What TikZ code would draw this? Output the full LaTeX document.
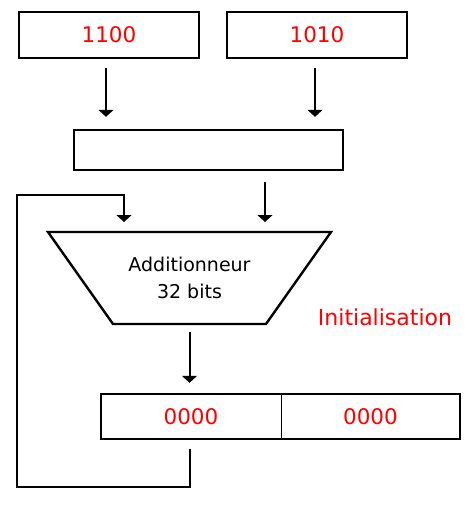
\documentclass[tikz,border=0pt]{standalone}
\usepackage{fontspec}
\setmainfont{DejaVu Sans}
\usetikzlibrary{arrows.meta}
\tikzset{
  boite/.style={draw, line width=2.4pt, minimum width=180pt, minimum height=46pt,
                inner sep=0pt, text=red, font=\fontsize{21.5}{25}\selectfont},
  case/.style={minimum height=45pt, inner sep=0pt, text=red,
               font=\fontsize{21.5}{25}\selectfont},
  fleche/.style={line width=2pt, -{Triangle[width=15pt,length=7pt]}},
}
\begin{document}
\begin{tikzpicture}[x=1pt, y=-1pt]
  \useasboundingbox (0,0) rectangle (471,515);
  \foreach \nom/\x/\val in {a/109/1100, b/317/1010} % les deux entrees
    {
     \node[boite] (\nom) at (\x,35) {\val};
    }
  \node[draw, line width=2.4pt, minimum width=269pt, minimum height=40pt,
        inner sep=0pt] (mid) at (208.5,150) {};
  % additionneur : trapeze grande base en haut
  \node[minimum width=283pt, minimum height=92pt, inner sep=0pt, outer sep=0pt,
        align=center, font=\fontsize{19}{27}\selectfont] (adder) at (189.5,278)
        {Additionneur\\32 bits};
  \draw[line width=2.4pt, line join=miter]
       (adder.north west) -- (adder.north east)
       -- ([xshift=-65pt]adder.south east) -- ([xshift=65pt]adder.south west) -- cycle;
  \node[text=red, font=\fontsize{22}{26}\selectfont] (init) at (385,317) {Initialisation};
  % registre de sortie
  \node[case, minimum width=180pt] (r1) at (191,416.5) {0000};
  \node[case, minimum width=179pt] (r2) at (370.5,416.5) {0000};
  \draw[line width=2.4pt] (r1.north west) rectangle (r2.south east);
  \draw[line width=1.2pt] (r1.north east) -- (r1.south east);
  % fleches
  \draw[fleche] ([xshift=-3pt,yshift=-9pt]a.south) -- ([xshift=-3pt,yshift=12pt]a.south |- mid.north);
  \draw[fleche] ([xshift=-2pt,yshift=-9pt]b.south) -- ([xshift=-2pt,yshift=12pt]b.south |- mid.north);
  \draw[fleche] ([xshift=56.5pt,yshift=-11pt]mid.south) -- ([xshift=56.5pt,yshift=10pt]mid.south |- adder.north);
  \draw[fleche] ([yshift=-8pt]adder.south) -- ([yshift=11pt]adder.south |- r1.north);
  % boucle de retour
  \coordinate (bas) at (17,487);
  \coordinate (haut) at (17,195);
  \coordinate (retour) at (124,222);
  \draw[fleche] ([yshift=-10pt]adder.south |- r1.south) |- (bas) -- (haut) -| (retour);
\end{tikzpicture}
\end{document}
